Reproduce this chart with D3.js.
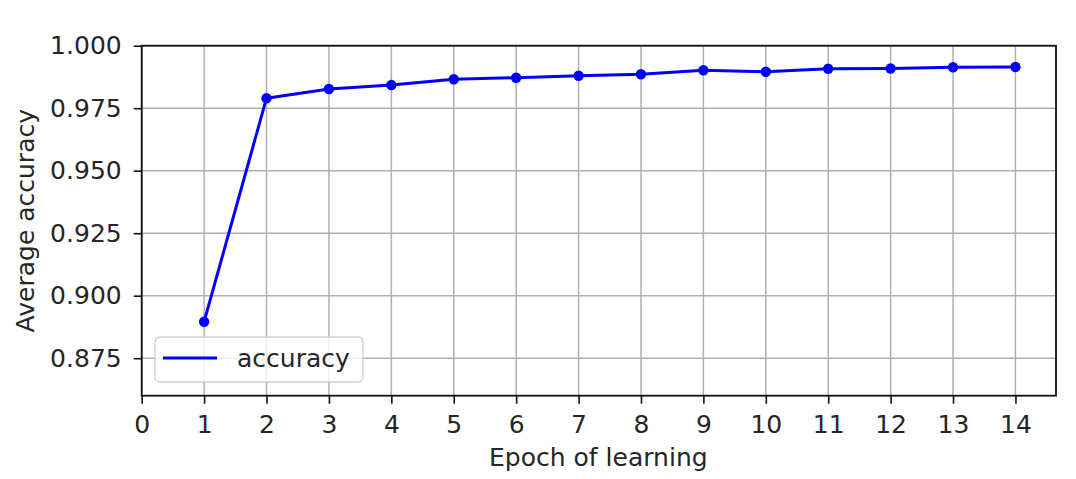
<!DOCTYPE html>
<html>
<head>
<meta charset="utf-8">
<script src="https://cdn.jsdelivr.net/npm/d3@7"></script>
<style>
  html, body { margin: 0; padding: 0; background: #fff; }
  svg { display: block; font-family: "DejaVu Sans", sans-serif; }
</style>
</head>
<body>
<svg id="chart" width="1076" height="479"></svg>
<script>
const epochs = [1, 2, 3, 4, 5, 6, 7, 8, 9, 10, 11, 12, 13, 14];
const accuracy = [0.8896, 0.9790, 0.9827, 0.9843, 0.9866, 0.9872, 0.9880, 0.9886, 0.9902, 0.9896, 0.9908, 0.9909, 0.9914, 0.9915];
const xTicks = [0, 1, 2, 3, 4, 5, 6, 7, 8, 9, 10, 11, 12, 13, 14];
const yTicks = [0.875, 0.900, 0.925, 0.950, 0.975, 1.000];
const seriesName = "accuracy";
const xTitle = "Epoch of learning";
const yTitle = "Average accuracy";

const svg = d3.select("#chart");
const L = 141.7, R = 1056, T = 45.7, B = 395.7;
const fs = 25;
const textColor = "#262626";

const x = d3.scaleLinear().domain([0, 14.65]).range([L, R]);
const y = d3.scaleLinear().domain([0.86, 1.0]).range([B, T]);

// grid
const grid = svg.append("g");
grid.selectAll("line.gx").data(xTicks).join("line")
  .attr("x1", d => x(d)).attr("x2", d => x(d)).attr("y1", T).attr("y2", B)
  .attr("stroke", "#b0b0b0").attr("stroke-width", 1.5);
grid.selectAll("line.gy").data(yTicks).join("line")
  .attr("y1", d => y(d)).attr("y2", d => y(d)).attr("x1", L).attr("x2", R)
  .attr("stroke", "#b0b0b0").attr("stroke-width", 1.5);

// line
const line = d3.line().x((d, i) => x(epochs[i])).y(d => y(d));
svg.append("path").datum(accuracy)
  .attr("d", line).attr("fill", "none").attr("stroke", "#0000ff")
  .attr("stroke-width", 3).attr("stroke-linejoin", "round");
svg.selectAll("circle.pt").data(accuracy).join("circle")
  .attr("cx", (d, i) => x(epochs[i])).attr("cy", d => y(d)).attr("r", 5.2)
  .attr("fill", "#0000ff");

// frame
svg.append("rect").attr("x", L).attr("y", T).attr("width", R - L).attr("height", B - T)
  .attr("fill", "none").attr("stroke", "#111").attr("stroke-width", 1.8);

// axes
const xAxis = d3.axisBottom(x).tickValues(xTicks).tickFormat(d3.format("d")).tickSize(8).tickPadding(12);
const gx = svg.append("g").attr("transform", `translate(0,${B})`).call(xAxis);
const yAxis = d3.axisLeft(y).tickValues(yTicks).tickFormat(d3.format(".3f")).tickSize(8).tickPadding(12);
const gy = svg.append("g").attr("transform", `translate(${L},0)`).call(yAxis);
[gx, gy].forEach(g => {
  g.select(".domain").remove();
  g.selectAll(".tick line").attr("stroke", "#111").attr("stroke-width", 1.6);
  g.selectAll(".tick text").attr("fill", textColor)
    .style("font-size", fs + "px").style("font-family", "DejaVu Sans");
});

// titles
svg.append("text").attr("x", (L + R) / 2 - 0.5).attr("y", 466)
  .attr("text-anchor", "middle").attr("fill", textColor)
  .style("font-size", fs + "px").text(xTitle);
svg.append("text").attr("transform", `translate(34,${(T + B) / 2}) rotate(-90)`)
  .attr("text-anchor", "middle").attr("fill", textColor)
  .style("font-size", fs + "px").text(yTitle);

// legend
const lg = svg.append("g");
lg.append("rect").attr("x", 155).attr("y", 337).attr("width", 208).attr("height", 45)
  .attr("rx", 5).attr("fill", "#fff").attr("fill-opacity", 0.8)
  .attr("stroke", "#d0d0d0").attr("stroke-width", 1.4);
lg.append("line").attr("x1", 163).attr("x2", 217).attr("y1", 358).attr("y2", 358)
  .attr("stroke", "#0000ff").attr("stroke-width", 3);
lg.append("text").attr("x", 237).attr("y", 367).attr("fill", textColor)
  .style("font-size", fs + "px").text(seriesName);
</script>
</body>
</html>
